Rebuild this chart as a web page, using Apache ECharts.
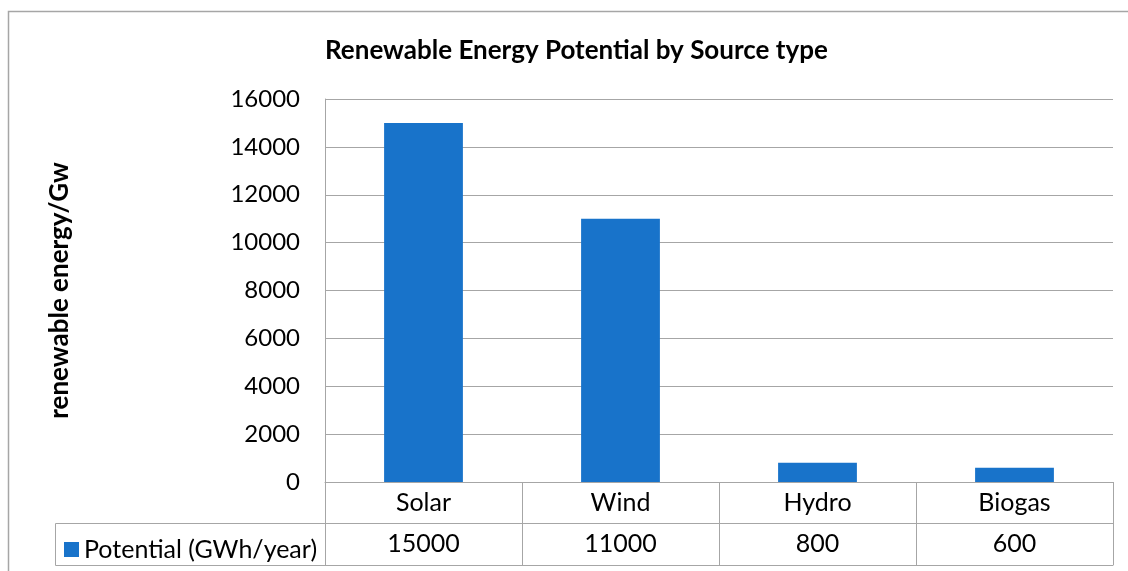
<!DOCTYPE html>
<html>
<head>
<meta charset="utf-8">
<script src="https://cdn.jsdelivr.net/npm/echarts@6/dist/echarts.min.js"></script>
<style>
  html, body { margin: 0; padding: 0; background: #fff; }
  #chart { width: 1128px; height: 571px; }
</style>
</head>
<body>
<div id="chart"></div>
<script>
// data
var categories = ['Solar', 'Wind', 'Hydro', 'Biogas'];
var potential = [15000, 11000, 800, 600];
var seriesName = 'Potential (GWh/year)';
var yTicks = { min: 0, max: 16000, interval: 2000 };

var font = 'Lato';
var gray = '#a6a6a6';
var blue = '#1873ca';

var chart = echarts.init(document.getElementById('chart'));

chart.setOption({
    animation: false,
    backgroundColor: '#fff',
    title: {
        text: 'Renewable Energy Potential by Source type',
        left: 320,
        top: 33,
        textStyle: { fontFamily: font, fontSize: 26, fontWeight: 'bold', color: '#000' }
    },
    legend: {
        data: [seriesName],
        left: 59,
        top: 532,
        icon: 'rect',
        itemWidth: 15,
        itemHeight: 15,
        itemGap: 6,
        textStyle: { fontFamily: font, fontSize: 25, color: '#000' }
    },
    grid: { left: 325, right: 15, top: 99, bottom: 89 },
    xAxis: [{
        type: 'category',
        data: categories,
        axisLine: { lineStyle: { color: gray } },
        //表格竖线
        axisTick: { show: true, length: 83, interval: 0, lineStyle: { color: gray } },
        axisLabel: { margin: 8, fontFamily: font, fontSize: 25, color: '#000' }
    }, {
        //数值行
        type: 'category',
        position: 'bottom',
        offset: 41,
        data: potential.map(String),
        axisLine: { lineStyle: { color: gray } },
        axisTick: { show: false },
        axisLabel: { margin: 8, fontFamily: font, fontSize: 25, color: '#000' }
    }, {
        type: 'category',
        position: 'bottom',
        offset: 83,
        data: categories,
        axisLine: { lineStyle: { color: gray } },
        axisTick: { show: false },
        axisLabel: { show: false }
    }],
    yAxis: {
        type: 'value',
        min: yTicks.min,
        max: yTicks.max,
        interval: yTicks.interval,
        name: 'renewable energy/Gw',
        nameLocation: 'middle',
        nameRotate: 90,
        nameGap: 252,
        nameTextStyle: { fontFamily: font, fontSize: 26, fontWeight: 'bold', color: '#000' },
        axisLine: { show: true, lineStyle: { color: gray } },
        axisTick: { show: false },
        axisLabel: {
            margin: 25,
            fontFamily: font,
            fontSize: 24,
            color: '#000',
            formatter: function (v) { return String(v); }
        },
        splitLine: { lineStyle: { color: gray } }
    },
    series: [{
        name: seriesName,
        type: 'bar',
        data: potential,
        barWidth: '40%',
        itemStyle: { color: blue }
    }],
    graphic: [{
        //外框
        type: 'rect',
        shape: { x: 8.5, y: 11.5, width: 1200, height: 600 },
        style: { fill: null, stroke: gray, lineWidth: 1.5 },
        silent: true
    }, {
        //图例单元格
        type: 'rect',
        shape: { x: 55.5, y: 523.5, width: 270, height: 42 },
        style: { fill: null, stroke: gray, lineWidth: 1 },
        silent: true
    }]
});
</script>
</body>
</html>
